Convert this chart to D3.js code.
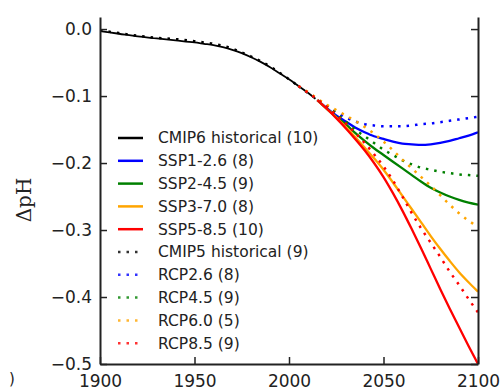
<!DOCTYPE html>
<html>
<head>
<meta charset="utf-8">
<script src="https://cdn.jsdelivr.net/npm/d3@7"></script>
<style>
  html, body { margin: 0; padding: 0; background: #fff; }
  svg { display: block; font-family: 'DejaVu Sans', sans-serif; }
</style>
</head>
<body>
<svg id="chart" width="504" height="390"></svg>
<script>
// historical runs
const cmip6Years = [1900, 1910, 1920, 1930, 1940, 1950, 1955, 1960, 1965, 1970, 1975, 1980, 1985, 1990, 1995, 2000, 2005, 2010, 2014];
const cmip6Hist  = [-0.003, -0.007, -0.011, -0.014, -0.017, -0.020, -0.022, -0.024, -0.027, -0.031, -0.036, -0.042, -0.049, -0.057, -0.066, -0.075, -0.085, -0.095, -0.104];
const cmip5Years = [1900, 1910, 1920, 1930, 1940, 1950, 1955, 1960, 1965, 1970, 1975, 1980, 1985, 1990, 1995, 2000, 2005];
const cmip5Hist  = [-0.002, -0.006, -0.010, -0.013, -0.015, -0.018, -0.020, -0.022, -0.025, -0.029, -0.035, -0.041, -0.048, -0.056, -0.065, -0.075, -0.085];

// CMIP6 scenarios
const sspYears = [2015, 2020, 2025, 2030, 2035, 2040, 2045, 2050, 2055, 2060, 2065, 2070, 2075, 2080, 2085, 2090, 2095, 2100];
const ssp126 = [-0.106, -0.118, -0.129, -0.138, -0.147, -0.154, -0.160, -0.164, -0.168, -0.171, -0.172, -0.173, -0.172, -0.170, -0.167, -0.163, -0.159, -0.154];
const ssp245 = [-0.106, -0.119, -0.131, -0.142, -0.155, -0.167, -0.178, -0.188, -0.198, -0.208, -0.218, -0.228, -0.237, -0.244, -0.250, -0.255, -0.259, -0.262];
const ssp370 = [-0.106, -0.119, -0.132, -0.146, -0.161, -0.177, -0.193, -0.210, -0.229, -0.249, -0.269, -0.289, -0.309, -0.328, -0.346, -0.363, -0.378, -0.392];
const ssp585 = [-0.106, -0.119, -0.133, -0.148, -0.164, -0.181, -0.200, -0.221, -0.245, -0.271, -0.299, -0.328, -0.358, -0.388, -0.417, -0.445, -0.473, -0.500];

// CMIP5 scenarios
const rcpYears = [2005, 2010, 2015, 2020, 2025, 2030, 2035, 2040, 2045, 2050, 2055, 2060, 2065, 2070, 2075, 2080, 2085, 2090, 2095, 2100];
const rcp26 = [-0.085, -0.095, -0.105, -0.115, -0.124, -0.132, -0.138, -0.142, -0.144, -0.145, -0.145, -0.145, -0.144, -0.142, -0.141, -0.139, -0.137, -0.135, -0.133, -0.131];
const rcp45 = [-0.085, -0.095, -0.105, -0.115, -0.126, -0.138, -0.150, -0.160, -0.170, -0.180, -0.188, -0.196, -0.202, -0.207, -0.210, -0.213, -0.215, -0.217, -0.218, -0.219];
const rcp60 = [-0.085, -0.094, -0.104, -0.113, -0.121, -0.129, -0.137, -0.146, -0.156, -0.168, -0.181, -0.195, -0.208, -0.221, -0.234, -0.248, -0.262, -0.275, -0.286, -0.295];
const rcp85 = [-0.085, -0.095, -0.105, -0.116, -0.128, -0.141, -0.155, -0.170, -0.187, -0.205, -0.226, -0.250, -0.275, -0.298, -0.319, -0.340, -0.362, -0.382, -0.403, -0.423];

const yTicks = [0, -0.1, -0.2, -0.3, -0.4, -0.5];
const xTicks = [1900, 1950, 2000, 2050, 2100];

const series = [
  { name: 'CMIP6 historical (10)', years: cmip6Years, vals: cmip6Hist, color: '#000000', dotted: false },
  { name: 'SSP1-2.6 (8)',  years: sspYears, vals: ssp126, color: '#0000ff', dotted: false },
  { name: 'SSP2-4.5 (9)',  years: sspYears, vals: ssp245, color: '#008000', dotted: false },
  { name: 'SSP3-7.0 (8)',  years: sspYears, vals: ssp370, color: '#ffa500', dotted: false },
  { name: 'SSP5-8.5 (10)', years: sspYears, vals: ssp585, color: '#ff0000', dotted: false },
  { name: 'CMIP5 historical (9)', years: cmip5Years, vals: cmip5Hist, color: '#000000', dotted: true },
  { name: 'RCP2.6 (8)', years: rcpYears, vals: rcp26, color: '#0000ff', dotted: true },
  { name: 'RCP4.5 (9)', years: rcpYears, vals: rcp45, color: '#008000', dotted: true },
  { name: 'RCP6.0 (5)', years: rcpYears, vals: rcp60, color: '#ffa500', dotted: true },
  { name: 'RCP8.5 (9)', years: rcpYears, vals: rcp85, color: '#ff0000', dotted: true },
];

const svg = d3.select('#chart');
const m = { left: 100, right: 478, top: 17, bottom: 364 };

const x = d3.scaleLinear().domain([1900, 2100]).range([m.left, m.right]);
const y = d3.scaleLinear().domain([-0.5, 0.018]).range([m.bottom, m.top]);

const line = d3.line().x(d => x(d[0])).y(d => y(d[1])).curve(d3.curveMonotoneX);

svg.append('defs').append('clipPath').attr('id', 'plotclip')
  .append('rect').attr('x', m.left).attr('y', m.top).attr('width', m.right - m.left).attr('height', m.bottom - m.top);

const plot = svg.append('g').attr('clip-path', 'url(#plotclip)');
series.forEach(s => {
  plot.append('path')
    .datum(s.years.map((yr, i) => [yr, s.vals[i]]))
    .attr('d', line)
    .attr('fill', 'none')
    .attr('stroke', s.color)
    .attr('stroke-width', s.dotted ? 2.5 : (s.color === '#000000' ? 1.8 : 2.3))
    .attr('stroke-dasharray', s.dotted ? '2.5,6' : null);
});

// axes, ticks pointing inward
const styleAxis = g => {
  g.select('.domain').attr('stroke', '#222').attr('stroke-width', 2);
  g.selectAll('.tick line').attr('stroke', '#222').attr('stroke-width', 1.5);
  g.selectAll('.tick text').attr('fill', '#222').style('font-size', '17px').style('font-family', "'DejaVu Sans', sans-serif");
};

svg.append('g').attr('transform', `translate(0,${m.bottom})`)
  .call(d3.axisBottom(x).tickValues(xTicks).tickFormat(d3.format('d')).tickSizeInner(-7).tickSizeOuter(0).tickPadding(11))
  .call(styleAxis);

svg.append('g').attr('transform', `translate(${m.left},0)`)
  .call(d3.axisLeft(y).tickValues(yTicks).tickFormat(d3.format('.1f')).tickSizeInner(-7).tickSizeOuter(0).tickPadding(8))
  .call(styleAxis);

svg.append('g').attr('transform', `translate(${m.right},0)`)
  .call(d3.axisRight(y).tickValues(yTicks).tickFormat('').tickSizeInner(-7).tickSizeOuter(0))
  .call(styleAxis);

svg.append('text')
  .attr('transform', 'translate(31,200) rotate(-90)')
  .attr('text-anchor', 'middle')
  .style('font-family', "'DejaVu Serif', serif").style('font-size', '20px').attr('fill', '#222')
  .text('ΔpH');

// stray glyph from neighbouring panel
svg.append('text').attr('x', 9).attr('y', 384).style('font-size', '15px').attr('fill', '#222').text(')');

// legend
const leg = svg.append('g');
series.forEach((s, i) => {
  const ly = 138 + i * 22.8;
  leg.append('line')
    .attr('x1', 118).attr('x2', 143).attr('y1', ly).attr('y2', ly)
    .attr('stroke', s.color)
    .attr('stroke-width', 2.5)
    .attr('stroke-dasharray', s.dotted ? '2.5,6' : null)
    .attr('opacity', s.dotted ? 0.8 : 1);
  leg.append('text')
    .attr('x', 158).attr('y', ly).attr('dy', '0.35em')
    .style('font-size', '15.5px').attr('fill', '#222')
    .text(s.name);
});
</script>
</body>
</html>
